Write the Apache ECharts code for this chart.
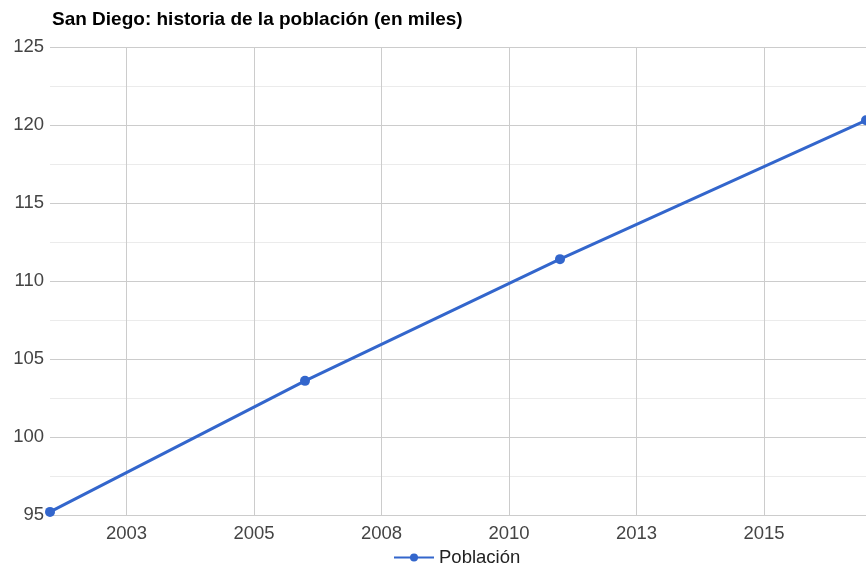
<!DOCTYPE html>
<html>
<head>
<meta charset="utf-8">
<script src="https://cdn.jsdelivr.net/npm/echarts@6/dist/echarts.min.js"></script>
<style>
  html, body { margin: 0; padding: 0; background: #fff; }
  #chart { width: 866px; height: 568px; }
</style>
</head>
<body>
<div id="chart"></div>
<script>
// data (population in thousands)
var years = [2001, 2006, 2011, 2017];
var poblacion = [95.2, 103.6, 111.4, 120.3];
var xTickValues = [2002.5, 2005, 2007.5, 2010, 2012.5, 2015];
var xTickLabels = ['2003', '2005', '2008', '2010', '2013', '2015'];

var chart = echarts.init(document.getElementById('chart'));

var points = [];
for (var i = 0; i < years.length; i++) {
    points.push([years[i], poblacion[i]]);
}

var textFont = 'Arial, "Liberation Sans", sans-serif';

chart.setOption({
    animation: false,
    title: {
        text: 'San Diego: historia de la población (en miles)',
        left: 47,
        top: 5,
        textStyle: { fontFamily: textFont, fontSize: 19, fontWeight: 'bold', color: '#000' }
    },
    legend: {
        left: 388,
        top: 543,
        itemWidth: 40,
        itemHeight: 10,
        itemGap: 6,
        textStyle: { fontFamily: textFont, fontSize: 18.5, color: '#222' }
    },
    grid: { left: 50, top: 47, width: 817, height: 468 },
    xAxis: {
        type: 'value',
        min: 2001,
        max: 2017,
        axisLine: { show: false },
        axisTick: { show: false, customValues: xTickValues },
        axisLabel: {
            customValues: xTickValues,
            fontFamily: textFont,
            fontSize: 18.5,
            color: '#444',
            margin: 9,
            formatter: function(v) {
                var idx = xTickValues.indexOf(v);
                return idx >= 0 ? xTickLabels[idx] : '';
            }
        },
        splitLine: {
            show: true,
            lineStyle: { color: '#cccccc', width: 1 }
        }
    },
    yAxis: {
        type: 'value',
        min: 95,
        max: 125,
        interval: 5,
        axisLine: { show: false },
        axisTick: { show: false },
        axisLabel: { fontFamily: textFont, fontSize: 18.5, color: '#444', margin: 6 },
        splitLine: { lineStyle: { color: '#cccccc', width: 1 } },
        minorTick: { show: false, splitNumber: 2 },
        minorSplitLine: { show: true, lineStyle: { color: '#ebebeb', width: 1 } }
    },
    series: [{
        name: 'Población',
        type: 'line',
        data: points,
        symbol: 'circle',
        symbolSize: 10,
        clip: false,
        lineStyle: { color: '#3366cc', width: 3 },
        itemStyle: { color: '#3366cc' }
    }]
});
</script>
</body>
</html>
